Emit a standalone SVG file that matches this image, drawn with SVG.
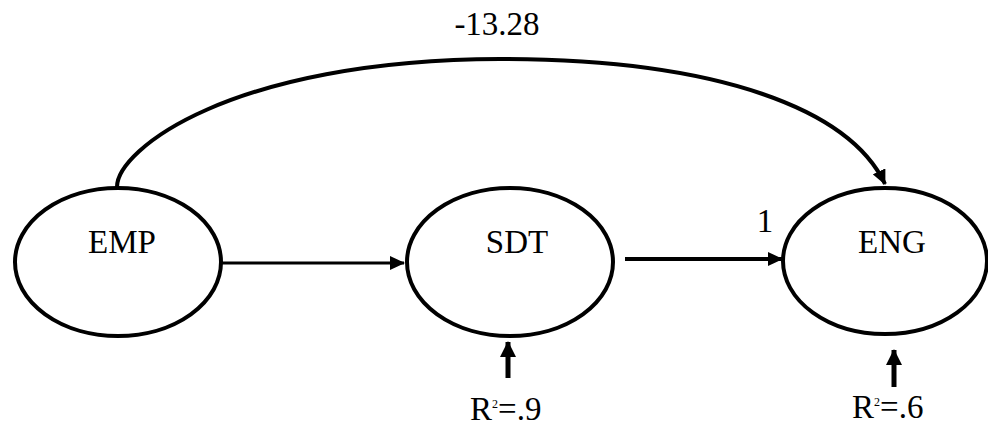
<svg xmlns="http://www.w3.org/2000/svg" width="988" height="429" viewBox="0 0 988 429">
  <style>
    .node { fill: #fff; stroke: #000; stroke-width: 4; }
    .lbl { font-family: "Liberation Serif", "Times New Roman", serif; font-size: 33px; fill: #000; }
    .edge { fill: none; stroke: #000; }
  </style>
  <defs>
    <marker id="head" markerUnits="userSpaceOnUse" markerWidth="16" markerHeight="14" refX="14" refY="7" orient="auto">
      <path d="M0,0 L15,7 L0,14 Z" fill="#000"/>
    </marker>
    <marker id="headUp" markerUnits="userSpaceOnUse" markerWidth="16" markerHeight="16" refX="15" refY="8" orient="auto">
      <path d="M0,0 L16,8 L0,16 Z" fill="#000"/>
    </marker>
  </defs>

  <rect width="988" height="429" fill="#fff"/>

  <!-- connectors -->
  <g id="connectors">
    <path class="edge" d="M117,187 C117,150 230,60 500,59 C720,59 850,110 885,184" stroke-width="4" marker-end="url(#head)"/>
    <line class="edge" x1="222" y1="263" x2="404" y2="263" stroke-width="3" marker-end="url(#head)"/>
    <line class="edge" x1="625" y1="259" x2="782" y2="259" stroke-width="4" marker-end="url(#head)"/>
    <line class="edge" x1="508" y1="378" x2="508" y2="342" stroke-width="5" marker-end="url(#headUp)"/>
    <line class="edge" x1="894" y1="387" x2="894" y2="350" stroke-width="5" marker-end="url(#headUp)"/>
  </g>

  <!-- edge labels -->
  <text class="lbl" x="497" y="35" text-anchor="middle">-13.28</text>
  <text class="lbl" x="765" y="232" text-anchor="middle">1</text>

  <g id="EMP">
    <ellipse class="node" cx="118" cy="262" rx="103" ry="74"/>
    <text class="lbl" x="122" y="253" text-anchor="middle">EMP</text>
  </g>
  <g id="SDT">
    <ellipse class="node" cx="510" cy="262" rx="103" ry="74"/>
    <text class="lbl" x="517" y="253" text-anchor="middle">SDT</text>
  </g>
  <g id="ENG">
    <ellipse class="node" cx="885" cy="261" rx="102" ry="73"/>
    <text class="lbl" x="892" y="253" text-anchor="middle">ENG</text>
  </g>

  <!-- explained variance -->
  <text class="lbl" x="470" y="420">R<tspan font-size="12" dy="-12">2</tspan><tspan dy="12">=.9</tspan></text>
  <text class="lbl" x="852" y="418">R<tspan font-size="12" dy="-12">2</tspan><tspan dy="12">=.6</tspan></text>
</svg>
